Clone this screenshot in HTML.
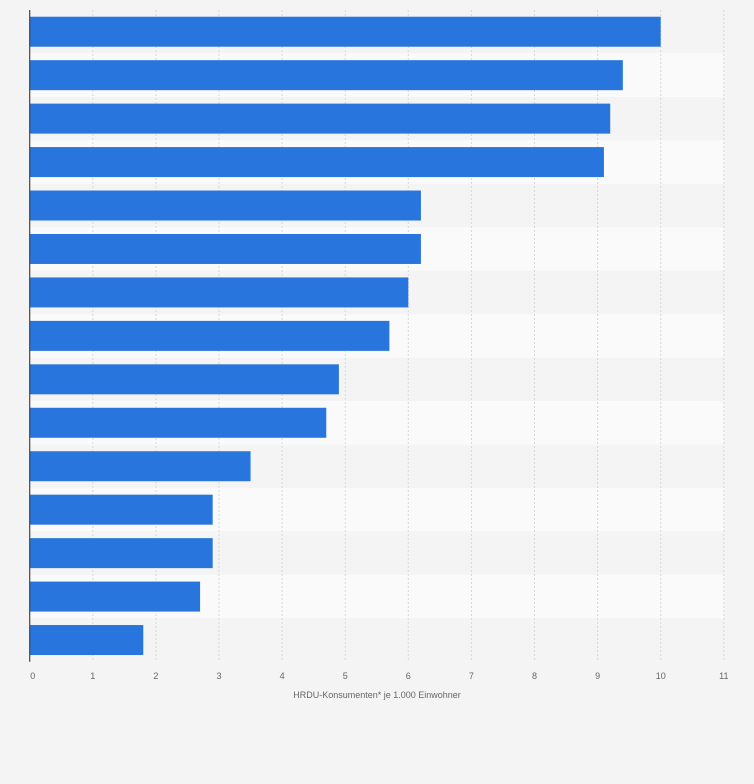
<!DOCTYPE html>
<html><head><meta charset="utf-8"><style>
body{margin:0;background:#f4f4f4;font-family:"Liberation Sans",sans-serif;}
</style></head><body>
<svg id="chart" width="754" height="779" xmlns="http://www.w3.org/2000/svg"></svg>
<script>
const categories=["A","B","C","D","E","F","G","H","I","J","K","L","M","N","O"];
const values=[10,9.4,9.2,9.1,6.2,6.2,6.0,5.7,4.9,4.7,3.5,2.9,2.9,2.7,1.8];
const ticks=[0,1,2,3,4,5,6,7,8,9,10,11];
const NS="http://www.w3.org/2000/svg";
const svg=document.getElementById('chart');
const x0=29.7,ppu=63.1,top0=10,rowH=43.45,barH=30;
const xs=v=>x0+v*ppu;
function el(t,a,p){const e=document.createElementNS(NS,t);for(const k in a)e.setAttribute(k,a[k]);(p||svg).appendChild(e);return e;}
categories.forEach((c,i)=>{if(i%2===1){const r=el('rect',{x:x0,y:top0+i*rowH,width:xs(11)-x0,height:rowH,fill:'#fafafa'});

}});
ticks.forEach(t=>{if(t>0){const l=el('line',{x1:xs(t),x2:xs(t),y1:top0,y2:top0+15*rowH,stroke:'#d8d8d8','stroke-dasharray':'2,2'});

}
const tx=el('text',{x:xs(t)+(t===0?3:0),y:679,'font-size':9,fill:'#666','text-anchor':'middle'});tx.textContent=t;

});
values.forEach((v,i)=>{const r=el('rect',{x:x0,y:top0+i*rowH+(rowH-barH)/2,width:xs(v)-x0,height:barH,fill:'#2876dd'});

});
const ax=el('line',{x1:x0,x2:x0,y1:top0,y2:top0+15*rowH,stroke:'#444','stroke-width':1.2});


const tt=el('text',{x:377,y:698,'font-size':9,fill:'#666','text-anchor':'middle'});tt.textContent='HRDU-Konsumenten* je 1.000 Einwohner';


</script>
</body></html>
